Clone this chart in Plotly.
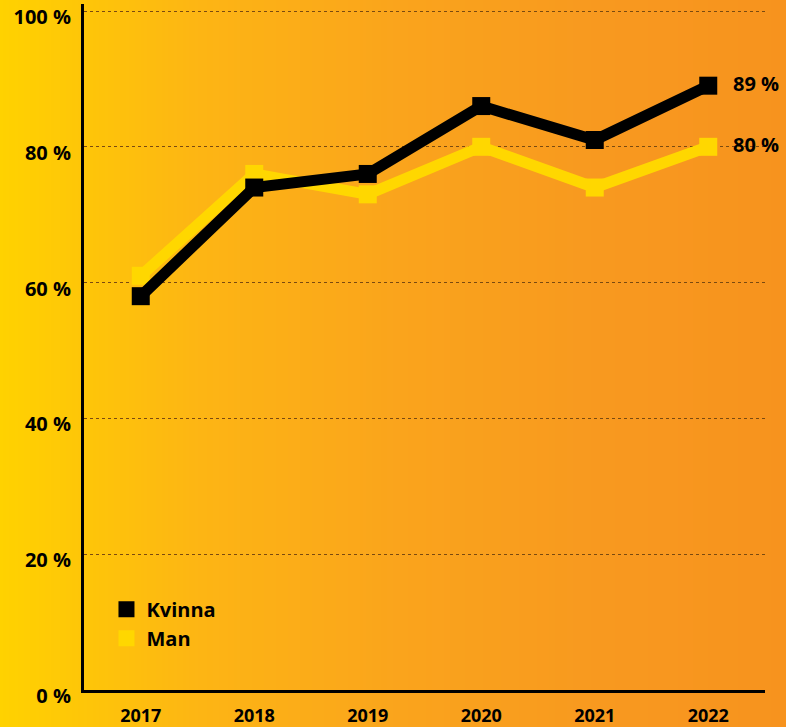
import plotly.graph_objects as go

years = ["2017", "2018", "2019", "2020", "2021", "2022"]
kvinna = [58, 74, 76, 86, 81, 89]
man = [61, 76, 73, 80, 74, 80]
y_ticks = [0, 20, 40, 60, 80, 100]
y_tick_labels = ["0 %", "20 %", "40 %", "60 %", "80 %", "100 %"]

W, H = 786, 727
L, R, T, B = 84, 21, 4, 37
plot_w = W - L - R
plot_h = H - T - B
px_per_unit = 6.79
y_top = plot_h / px_per_unit

FONT = "Open Sans"
BLACK = "#000000"
YELLOW = "#FFD700"

# background gradient stops (figure pixel x, rgb)
stops = [(0, (255, 210, 0)), (200, (253, 181, 20)), (400, (250, 164, 28)),
         (600, (248, 153, 31)), (786, (247, 147, 30))]

def color_at(px):
    for (x0, c0), (x1, c1) in zip(stops[:-1], stops[1:]):
        if x0 <= px <= x1:
            t = (px - x0) / (x1 - x0)
            return "rgb(%d,%d,%d)" % tuple(round(a + (b - a) * t) for a, b in zip(c0, c1))
    return "rgb(%d,%d,%d)" % stops[-1][1]

shapes = []
step = 3
for px in range(0, W, step):
    x0 = (px - L) / plot_w
    x1 = (px + step + 1 - L) / plot_w
    shapes.append(dict(type="rect", xref="paper", yref="paper",
                       x0=x0, x1=x1, y0=-B / plot_h - 0.01, y1=1 + T / plot_h + 0.01,
                       fillcolor=color_at(px + step / 2), line=dict(width=0), layer="below"))

fig = go.Figure()
fig.add_trace(go.Scatter(x=years, y=man, mode="lines+markers", name="Man",
                         line=dict(color=YELLOW, width=11),
                         marker=dict(symbol="square", size=18, color=YELLOW),
                         showlegend=False, cliponaxis=False))
fig.add_trace(go.Scatter(x=years, y=kvinna, mode="lines+markers", name="Kvinna",
                         line=dict(color=BLACK, width=11),
                         marker=dict(symbol="square", size=18, color=BLACK),
                         showlegend=False, cliponaxis=False))
# end labels
fig.add_trace(go.Scatter(x=[years[-1], years[-1]], y=[kvinna[-1], man[-1]],
                         mode="markers+text",
                         text=["%d %%" % kvinna[-1], "%d %%" % man[-1]],
                         textposition="middle right",
                         textfont=dict(family=FONT, size=20, color=BLACK, weight=700),
                         marker=dict(size=38, opacity=0),
                         showlegend=False, cliponaxis=False, hoverinfo="skip"))
# legend entries
fig.add_trace(go.Scatter(x=[None], y=[None], mode="markers", name="Kvinna",
                         marker=dict(symbol="square", size=17, color=BLACK)))
fig.add_trace(go.Scatter(x=[None], y=[None], mode="markers", name="Man",
                         marker=dict(symbol="square", size=17, color=YELLOW)))

fig.update_layout(
    width=W, height=H,
    margin=dict(l=L, r=R, t=T, b=B, pad=0, autoexpand=False),
    paper_bgcolor="rgba(0,0,0,0)", plot_bgcolor="rgba(0,0,0,0)",
    shapes=shapes,
    font=dict(family=FONT, color=BLACK),
    legend=dict(x=0.033, y=0.146, xanchor="left", yanchor="top",
                bgcolor="rgba(0,0,0,0)", itemwidth=30,
                font=dict(family=FONT, size=20, color=BLACK, weight=700),
                itemsizing="trace"),
    xaxis=dict(type="category", range=[-0.5, 5.5], showgrid=False, zeroline=False,
               showline=True, linecolor=BLACK, linewidth=3, automargin=False,
               ticks="outside", ticklen=7, tickcolor="rgba(0,0,0,0)",
               ticklabeloverflow="allow",
               tickfont=dict(family=FONT, size=18, color=BLACK, weight=700)),
    yaxis=dict(range=[0, y_top], tickvals=y_ticks, ticktext=y_tick_labels,
               showgrid=True, gridcolor="#7a4a10", griddash="dot", gridwidth=1.2,
               zeroline=False, showline=True, linecolor=BLACK, linewidth=3, automargin=False,
               ticks="outside", ticklen=6, tickcolor="rgba(0,0,0,0)",
               ticklabelshift=6, ticklabeloverflow="allow",
               tickfont=dict(family=FONT, size=20, color=BLACK, weight=700)),
)

fig.write_html("out.html", config={"displayModeBar": False},
               post_script="document.body.style.margin='0';document.body.style.overflow='hidden';")
